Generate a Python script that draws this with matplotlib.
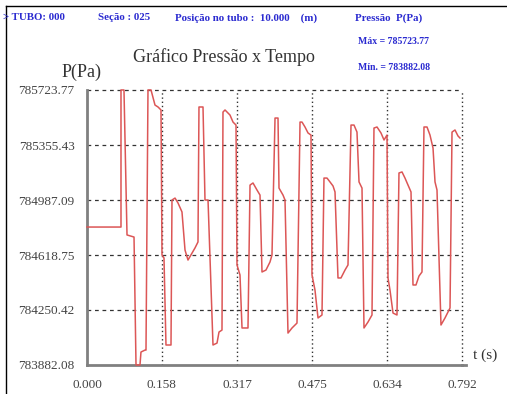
import matplotlib
matplotlib.use('Agg')
import matplotlib.pyplot as plt
from matplotlib.lines import Line2D

# ── Dados ────────────────────────────────────────────────────────────────────
P_MIN = 783882.08
P_MAX = 785723.77
Y_TICKS = [783882.08, 784250.42, 784618.75, 784987.09, 785355.43, 785723.77]
X_TICKS = [0.000, 0.158, 0.317, 0.475, 0.634, 0.792]

t_s = [0.0000, 0.0718, 0.0718, 0.0781, 0.0845, 0.0993, 0.1035, 0.1119, 0.1140,
       0.1225, 0.1246, 0.1288, 0.1352, 0.1436, 0.1500, 0.1563, 0.1584, 0.1626,
       0.1668, 0.1774, 0.1795, 0.1859, 0.1922, 0.2006, 0.2070, 0.2133, 0.2281,
       0.2344, 0.2365, 0.2450, 0.2492, 0.2556, 0.2661, 0.2746, 0.2788, 0.2851,
       0.2872, 0.2915, 0.3020, 0.3084, 0.3147, 0.3168, 0.3231, 0.3274, 0.3400,
       0.3443, 0.3506, 0.3590, 0.3654, 0.3696, 0.3780, 0.3865, 0.3907, 0.3971,
       0.4034, 0.4055, 0.4140, 0.4182, 0.4245, 0.4330, 0.4435, 0.4499, 0.4541,
       0.4604, 0.4668, 0.4731, 0.4752, 0.4815, 0.4879, 0.4963, 0.5005, 0.5069,
       0.5132, 0.5196, 0.5238, 0.5301, 0.5364, 0.5449, 0.5512, 0.5576, 0.5639,
       0.5702, 0.5745, 0.5808, 0.5850, 0.5935, 0.6019, 0.6061, 0.6125, 0.6209,
       0.6273, 0.6336, 0.6357, 0.6399, 0.6463, 0.6547, 0.6589, 0.6653, 0.6716,
       0.6780, 0.6843, 0.6885, 0.6948, 0.7012, 0.7075, 0.7117, 0.7181, 0.7244,
       0.7308, 0.7350, 0.7392, 0.7476, 0.7561, 0.7667, 0.7709, 0.7772, 0.7835,
       0.7878]

p_pa = [784806, 784806, 785724, 785724, 784753, 784739, 783882, 783882, 783969,
        783982, 783982, 785724, 785724, 785623, 785610, 785590, 784619, 784599,
        784016, 784016, 784987, 785000, 784967, 784907, 784652, 784585, 784666,
        784706, 785610, 785610, 784987, 784987, 784016, 784029, 784103, 784116,
        785576, 785590, 785556, 785509, 785489, 784552, 784485, 784130, 784130,
        785087, 785101, 785054, 785020, 784505, 784518, 784572, 784619, 785536,
        785536, 785067, 785020, 784987, 784096, 784130, 784163, 785509, 785509,
        785476, 785436, 785422, 784485, 784384, 784197, 784217, 785134, 785134,
        785108, 785081, 785041, 784465, 784465, 784518, 784552, 785489, 785489,
        785442, 785108, 785067, 784130, 784170, 784217, 785469, 785476, 785436,
        785389, 785422, 784465, 784384, 784230, 784217, 785168, 785175, 785134,
        785087, 785041, 784418, 784418, 784478, 784505, 785476, 785476, 785422,
        785335, 785108, 785054, 784150, 784197, 784264, 785442, 785456, 785416,
        785402]

W, H = 507, 394

def px(x, y):
    return x / W, 1 - y / H

plt.rcParams['font.family'] = ['Liberation Serif', 'DejaVu Serif']

fig = plt.figure(figsize=(W / 100, H / 100), dpi=100)
ax = fig.add_axes([87 / W, 1 - 365 / H, (462 - 87) / W, (365 - 90) / H])

ax.plot(t_s, p_pa, color='#dc5656', lw=1.1, clip_on=False, zorder=3)

ax.set_xlim(0, 0.792)
ax.set_ylim(P_MIN, P_MAX)
ax.set_xticks(X_TICKS)
ax.set_xticklabels([f'{v:.3f}' for v in X_TICKS])
ax.set_yticks(Y_TICKS)
ax.set_yticklabels([f'{v:.2f}' for v in Y_TICKS])
ax.tick_params(length=0, labelsize=9.5, colors='#444444')
ax.tick_params(axis='y', pad=9)
ax.tick_params(axis='x', pad=10)

# grade: horizontais tracejadas, verticais pontilhadas
for v in Y_TICKS[1:]:
    ax.axhline(v, color='#333333', lw=0.9, ls=(0, (3, 3)), clip_on=False, zorder=1)
for v in X_TICKS[1:]:
    ax.axvline(v, color='#333333', lw=1.0, ls=(0, (1, 2)), clip_on=False, zorder=1)

for s in ['top', 'right']:
    ax.spines[s].set_visible(False)
for s in ['left', 'bottom']:
    ax.spines[s].set_color('#808080')
    ax.spines[s].set_linewidth(2)
# eixo x um pouco além do limite
fig.add_artist(Line2D([462 / W, 466 / W], [1 - 365 / H, 1 - 365 / H], color='#808080', lw=2))

# moldura
fig.add_artist(Line2D([6 / W, 1], [1 - 6 / H, 1 - 6 / H], color='black', lw=1))
fig.add_artist(Line2D([6 / W, 6 / W], [1 - 6 / H, 0], color='black', lw=1))

# textos
blue = '#2a2ad0'
fs_top = 7.8
fig.text(*px(3, 18), '> TUBO: 000', color=blue, fontsize=fs_top, fontweight='bold', va='center')
fig.text(*px(98, 18), 'Seção : 025', color=blue, fontsize=fs_top, fontweight='bold', va='center')
fig.text(*px(175, 18), 'Posição no tubo :  10.000    (m)', color=blue, fontsize=fs_top,
         fontweight='bold', va='center')
fig.text(*px(355, 18), 'Pressão  P(Pa)', color=blue, fontsize=fs_top, fontweight='bold', va='center')
fig.text(*px(358, 42), 'Máx = 785723.77', color=blue, fontsize=7, fontweight='bold', va='center')
fig.text(*px(358, 68), 'Mín. = 783882.08', color=blue, fontsize=7, fontweight='bold', va='center')

fig.text(*px(224, 57), 'Gráfico Pressão x Tempo', color='#333333', fontsize=13,
         ha='center', va='center')
fig.text(*px(62, 72), 'P(Pa)', color='#333333', fontsize=13, va='center')
fig.text(*px(473, 355), 't (s)', color='#333333', fontsize=11, va='center')

fig.savefig('out.png', dpi=100, facecolor='white')
